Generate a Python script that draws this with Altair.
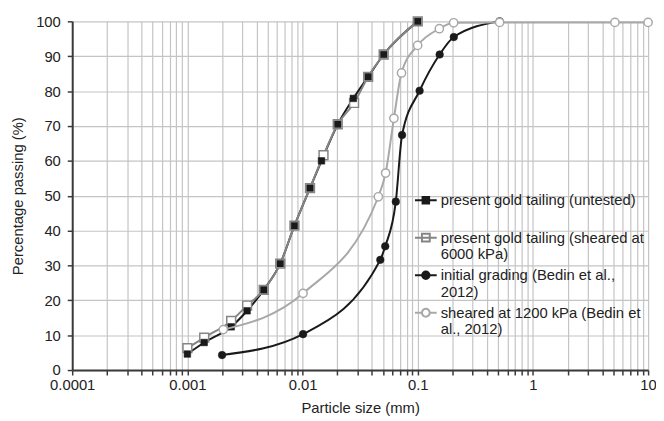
import altair as alt
import pandas as pd

names = [
    "present gold tailing (untested)",
    "present gold tailing (sheared at 6000 kPa)",
    "initial grading (Bedin et al., 2012)",
    "sheared at 1200 kPa (Bedin et al., 2012)",
]
label_lines = [
    ["present gold tailing (untested)", ""],
    ["present gold tailing (sheared at", "6000 kPa)"],
    ["initial grading (Bedin et al.,", "2012)"],
    ["sheared at 1200 kPa (Bedin et", "al., 2012)"],
]

untested_size = [0.001, 0.0014, 0.0024, 0.0033, 0.0046, 0.0064, 0.0085, 0.0116, 0.0146, 0.0202, 0.0276, 0.0371, 0.0506, 0.1]
untested_pass = [4.6, 7.9, 12.4, 17.0, 23.0, 30.5, 41.4, 52.2, 60.0, 70.5, 77.9, 84.1, 90.5, 100]
sheared_size = [0.001, 0.0014, 0.0024, 0.0033, 0.0046, 0.0064, 0.0085, 0.0116, 0.0152, 0.0202, 0.0280, 0.0371, 0.0506, 0.1]
sheared_pass = [6.3, 9.3, 14.1, 18.5, 23.0, 30.5, 41.4, 52.2, 61.6, 70.5, 76.6, 84.1, 90.5, 100]
initial_size = [0.002, 0.0101, 0.0473, 0.0522, 0.0645, 0.0731, 0.1038, 0.155, 0.2056, 0.514]
initial_pass = [4.3, 10.3, 31.6, 35.5, 48.3, 67.4, 80.1, 90.5, 95.5, 100]
bedin_size = [0.00205, 0.0101, 0.0455, 0.0526, 0.0621, 0.0723, 0.0998, 0.154, 0.205, 0.514, 5.15, 10]
bedin_pass = [11.6, 22.0, 49.7, 56.5, 72.2, 85.2, 93.1, 97.9, 99.6, 99.7, 99.7, 99.7]

x_ticks = [m * 10.0 ** e for e in range(-4, 1) for m in range(1, 10)] + [10.0]
y_ticks = list(range(0, 101, 10))

rows = []
for name, xs, ys in zip(names, [untested_size, sheared_size, initial_size, bedin_size],
                        [untested_pass, sheared_pass, initial_pass, bedin_pass]):
    for x, y in zip(xs, ys):
        rows.append({"series": name, "size": x, "passing": y})
df = pd.DataFrame(rows)

FONT = "Liberation Sans"
BLACK = "#1a1a1a"
GRAY1 = "#858585"
GRAY2 = "#a8a8a8"

xenc = alt.X("size:Q", scale=alt.Scale(type="log", domain=[0.0001, 10], nice=False),
             axis=alt.Axis(values=x_ticks, title="Particle size (mm)", labelFlush=False,
                           labelExpr="abs(log(datum.value)/LN10 - round(log(datum.value)/LN10)) < 0.001 ? format(datum.value, '~g') : ''"))
yenc = alt.Y("passing:Q", scale=alt.Scale(domain=[0, 100], nice=False),
             axis=alt.Axis(values=y_ticks, title="Percentage passing (%)"))

base = alt.Chart(df)

def sel(i):
    return base.transform_filter(alt.datum.series == names[i])

l_untested = sel(0).mark_line(color=BLACK, strokeWidth=2, interpolate="monotone").encode(x=xenc, y=yenc)
l_sheared = sel(1).mark_line(color=GRAY1, strokeWidth=2, interpolate="monotone").encode(x=xenc, y=yenc)
p_sheared = sel(1).mark_point(shape="square", filled=True, fill="white", stroke=GRAY1, strokeWidth=1.5,
                              size=80, opacity=1).encode(x=xenc, y=yenc)
p_untested = sel(0).mark_point(shape="square", filled=True, fill=BLACK, stroke=BLACK, strokeWidth=0.5,
                               size=45, opacity=1).encode(x=xenc, y=yenc)
l_initial = sel(2).mark_line(color=BLACK, strokeWidth=2, interpolate="monotone").encode(x=xenc, y=yenc)
p_initial = sel(2).mark_point(shape="circle", filled=True, fill=BLACK, stroke=BLACK, strokeWidth=0.5,
                              size=60, opacity=1).encode(x=xenc, y=yenc)
l_bedin = sel(3).mark_line(color=GRAY2, strokeWidth=2, interpolate="monotone").encode(x=xenc, y=yenc)
p_bedin = sel(3).mark_point(shape="circle", filled=True, fill="white", stroke=GRAY2, strokeWidth=1.5,
                            size=70, opacity=1).encode(x=xenc, y=yenc)

sq_black = "M-1,0H-0.3M0.3,0H1M-0.3,-0.3H0.3V0.3H-0.3Z"
sq_open = "M-1,0H1M-0.36,-0.36H0.36V0.36H-0.36Z"
ci_black = "M-1,0H-0.34M0.34,0H1M-0.34,0A0.34,0.34 0 1,1 0.34,0A0.34,0.34 0 1,1 -0.34,0Z"
ci_open = "M-1,0H-0.36M0.36,0H1M-0.36,0A0.36,0.36 0 1,1 0.36,0A0.36,0.36 0 1,1 -0.36,0Z"

expr_parts = []
for n, lines in zip(names, label_lines):
    arr = "[" + ",".join("'" + s + "'" for s in lines) + "]"
    expr_parts.append(f"datum.label == '{n}' ? {arr}")
label_expr = " : ".join(expr_parts) + " : datum.label"

leg = alt.Legend(title=None, orient="none", legendX=346, legendY=169, padding=0,
                 labelExpr=label_expr, labelFont=FONT, labelFontSize=15, labelColor="#222222",
                 labelLimit=400, labelOffset=3, symbolSize=484, symbolStrokeWidth=2,
                 gridAlign="all", rowPadding=1, columns=1)

legend_layer = base.transform_filter("false").mark_point(filled=True, opacity=1).encode(
    shape=alt.Shape("series:N", scale=alt.Scale(domain=names, range=[sq_black, sq_open, ci_black, ci_open]), legend=leg),
    fill=alt.Fill("series:N", scale=alt.Scale(domain=names, range=[BLACK, "white", BLACK, "white"]), legend=leg),
    stroke=alt.Stroke("series:N", scale=alt.Scale(domain=names, range=[BLACK, GRAY1, BLACK, GRAY2]), legend=leg),
)

chart = alt.layer(
    l_untested, l_sheared, p_sheared, p_untested, l_initial, p_initial, l_bedin, p_bedin, legend_layer
).properties(
    width=583, height=353,
    autosize=alt.AutoSizeParams(type="none"),
    padding={"left": 65, "top": 11, "right": 8, "bottom": 45},
).configure_view(stroke=None).configure_axis(
    grid=True, gridColor="#c4c4c4", gridWidth=1.2,
    domainColor="#3a3a3a", domainWidth=2, tickColor="#3a3a3a", tickWidth=1.5, tickSize=5,
    labelFont=FONT, labelFontSize=15, labelColor="#222222",
    titleFont=FONT, titleFontSize=15, titleFontWeight="normal", titleColor="#222222",
).configure_axisX(labelPadding=3, titlePadding=8).configure_axisY(labelPadding=7, titlePadding=10)

chart.save("out.html", embed_options={"renderer": "svg", "actions": False})
